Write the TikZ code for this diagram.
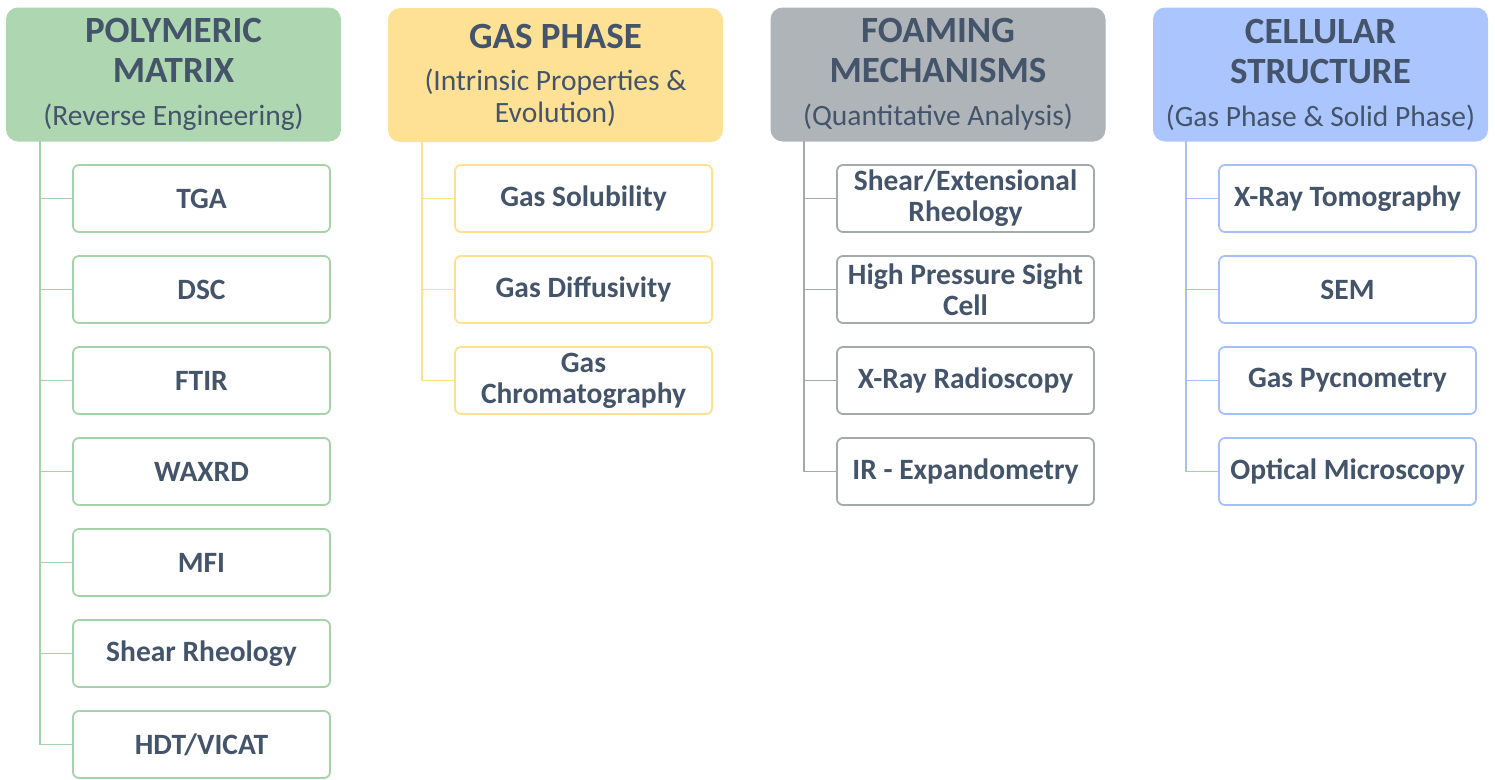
\documentclass[tikz,border=0pt]{standalone}
\usepackage{fontspec}
\setmainfont{Carlito}
\definecolor{txt}{HTML}{44546A}
\definecolor{gfill}{HTML}{AED6B1}
\definecolor{gline}{HTML}{A6D2A9}
\definecolor{yfill}{HTML}{FFE196}
\definecolor{yline}{HTML}{FFE08E}
\definecolor{afill}{HTML}{AEB4B7}
\definecolor{aline}{HTML}{A4A9AC}
\definecolor{bfill}{HTML}{ABC5FF}
\definecolor{bline}{HTML}{A6C0FE}
\tikzset{
  x=1pt,y=-1pt,
  header/.style={rounded corners=12pt, inner sep=0pt, minimum width=335pt, minimum height=134pt,
    align=center, text=txt, font=\fontsize{37}{40}\selectfont\bfseries},
  child/.style={draw, fill=white, line width=1.8pt, rounded corners=6pt, inner sep=0pt,
    minimum width=257pt, minimum height=67pt, align=center, text=txt,
    font=\fontsize{29.5}{31}\selectfont\bfseries},
  conn/.style={line width=1.8pt},
}
\newcommand{\subt}[1]{{\fontsize{29.5}{32}\selectfont\mdseries #1}}
\begin{document}
\begin{tikzpicture}
\useasboundingbox (0,0) rectangle (1495,779);
% headers
\node[header, fill=gfill] (h1) at (173.5,74.5) {POLYMERIC\\MATRIX\\[3pt]\subt{(Reverse Engineering)}};
\node[header, fill=yfill] (h2) at (555.5,75) {GAS PHASE\\[2pt]\subt{(Intrinsic Properties \&}\\[-8pt]\subt{Evolution)}};
\node[header, fill=afill] (h3) at (938,74.5) {FOAMING\\MECHANISMS\\[3pt]\subt{(Quantitative Analysis)}};
\node[header, fill=bfill] (h4) at (1320.5,74.5) {CELLULAR\\STRUCTURE\\[3pt]\subt{(Gas Phase \& Solid Phase)}};
% spines
\coordinate (s1) at (40,141);
\coordinate (s2) at (422,141);
\coordinate (s3) at (804,141);
\coordinate (s4) at (1186,141);
% column 1
\begin{scope}[every node/.append style={draw=gline}]
\node[child] (a1) at (201.5,198.5) {TGA};
\node[child] (a2) at (201.5,289.5) {DSC};
\node[child] (a3) at (201.5,380.5) {FTIR};
\node[child] (a4) at (201.5,471.5) {WAXRD};
\node[child] (a5) at (201.5,562.5) {MFI};
\node[child] (a6) at (201.5,653.5) {Shear Rheology};
\node[child] (a7) at (201.5,744.5) {HDT/VICAT};
\end{scope}
\foreach \n in {a1,a2,a3,a4,a5,a6,a7} \draw[conn, gline] (s1) |- (\n.west);
% column 2
\begin{scope}[every node/.append style={draw=yline}]
\node[child] (b1) at (583.5,198.5) {Gas Solubility};
\node[child] (b2) at (583.5,289.5) {Gas Diffusivity};
\node[child] (b3) at (583.5,380.5) {Gas\\Chromatography};
\end{scope}
\foreach \n in {b1,b2,b3} \draw[conn, yline] (s2) |- (\n.west);
% column 3
\begin{scope}[every node/.append style={draw=aline}]
\node[child] (c1) at (965.5,198.5) {Shear/Extensional\\Rheology};
\node[child] (c2) at (965.5,289.5) {High Pressure Sight\\Cell};
\node[child] (c3) at (965.5,380.5) {X-Ray Radioscopy};
\node[child] (c4) at (965.5,471.5) {IR - Expandometry};
\end{scope}
\foreach \n in {c1,c2,c3,c4} \draw[conn, aline] (s3) |- (\n.west);
% column 4
\begin{scope}[every node/.append style={draw=bline}]
\node[child] (d1) at (1347.5,198.5) {X-Ray Tomography};
\node[child] (d2) at (1347.5,289.5) {SEM};
\node[child] (d3) at (1347.5,380.5) {Gas Pycnometry};
\node[child] (d4) at (1347.5,471.5) {Optical Microscopy};
\end{scope}
\foreach \n in {d1,d2,d3,d4} \draw[conn, bline] (s4) |- (\n.west);
\end{tikzpicture}
\end{document}
